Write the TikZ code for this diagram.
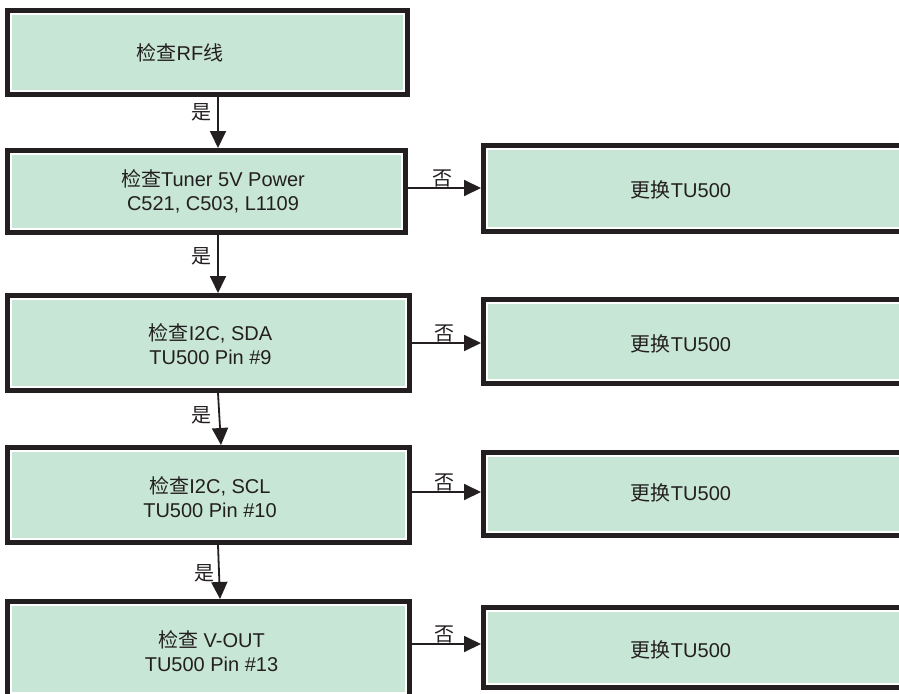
\documentclass[tikz,border=0pt]{standalone}
\usepackage{fontspec}
\setmainfont{Liberation Sans}
\newfontfamily\cjk{Noto Sans CJK SC}
\usetikzlibrary{arrows.meta,calc}
\definecolor{boxgreen}{RGB}{200,230,213}
\definecolor{ink}{RGB}{35,31,32}
\begin{document}
\begin{tikzpicture}[x=1pt,y=-1pt,
  box/.style={fill=boxgreen, draw=white, line width=1.6pt, outer sep=6pt, inner sep=0pt,
    preaction={draw=ink, line width=12pt}},
  txt/.style={align=center, inner sep=0pt, text=ink, font=\fontsize{20}{24}\selectfont},
  arr/.style={draw=ink, line width=1.8pt, -{Triangle[length=17pt,width=16pt]}},
  yes/.style={inner sep=0pt, text=ink, font=\fontsize{20}{24}\selectfont\cjk},
  no/.style={midway, above, inner sep=0.5pt, text=ink, font=\fontsize{20}{24}\selectfont\cjk}]
\useasboundingbox (0,0) rectangle (899,693);
\fill[white] (0,0) rectangle (899,693);
\clip (0,0) rectangle (899,693);
% left column
\node[box, minimum width=393pt, minimum height=77pt,
  label={[txt,xshift=-27.5pt]center:{\cjk 检查}RF{\cjk 线}}] (b1) at (207.5,52.5) {};
\node[box, minimum width=391pt, minimum height=75pt,
  label={[txt,xshift=6.5pt]center:{\cjk 检查}Tuner 5V Power\\C521, C503, L1109}] (b2) at (206.5,191.5) {};
\node[box, minimum width=395pt, minimum height=88pt,
  label={[txt,xshift=2pt,yshift=-1.5pt]center:{\cjk 检查}I2C, SDA\\TU500 Pin \#9}] (b3) at (208.5,343) {};
\node[box, minimum width=395pt, minimum height=88pt,
  label={[txt,xshift=1.5pt,yshift=-2.5pt]center:{\cjk 检查}I2C, SCL\\TU500 Pin \#10}] (b4) at (208.5,495) {};
\node[box, minimum width=395pt, minimum height=88pt,
  label={[txt,xshift=3pt,yshift=-2.5pt]center:{\cjk 检查} V-OUT\\TU500 Pin \#13}] (b5) at (208.5,649) {};
% right column (extends past the right edge)
\node[box, minimum width=600pt, minimum height=79pt,
  label={[txt,xshift=-106pt,yshift=-1.5pt]center:{\cjk 更换}TU500}] (r2) at (787,188.5) {};
\node[box, minimum width=600pt, minimum height=77pt,
  label={[txt,xshift=-106pt,yshift=-2.5pt]center:{\cjk 更换}TU500}] (r3) at (787,341.5) {};
\node[box, minimum width=600pt, minimum height=76pt,
  label={[txt,xshift=-106pt,yshift=1pt]center:{\cjk 更换}TU500}] (r4) at (787,494) {};
\node[box, minimum width=600pt, minimum height=73pt,
  label={[txt,xshift=-106pt,yshift=-2.5pt]center:{\cjk 更换}TU500}] (r5) at (787,647.5) {};
% yes arrows
\draw[arr] ([xshift=10.5pt]b1.south) -- node[yes, pos=0.31, left=6pt]{是} ([xshift=11.5pt]b2.north);
\draw[arr] ([xshift=11.5pt]b2.south) -- node[yes, pos=0.36, left=6pt]{是} ([xshift=9.5pt]b3.north);
\draw[arr] ([xshift=9.5pt]b3.south) -- node[yes, pos=0.42, left=7pt]{是} ([xshift=12.5pt]b4.north);
\draw[arr] ([xshift=9.5pt]b4.south) -- node[yes, pos=0.52, left=3.5pt]{是} ([xshift=11.5pt]b5.north);
% no arrows
\draw[arr] ($(b2.east)+(-5,-3.5)$) coordinate (s2) -- node[no]{否} (s2 -| r2.west);
\draw[arr] ($(b3.east)+(-5,0)$) coordinate (s3) -- node[no]{否} (s3 -| r3.west);
\draw[arr] ($(b4.east)+(-5,-3)$) coordinate (s4) -- node[no]{否} (s4 -| r4.west);
\draw[arr] ($(b5.east)+(-5,-5)$) coordinate (s5) -- node[no]{否} (s5 -| r5.west);
\end{tikzpicture}
\end{document}
